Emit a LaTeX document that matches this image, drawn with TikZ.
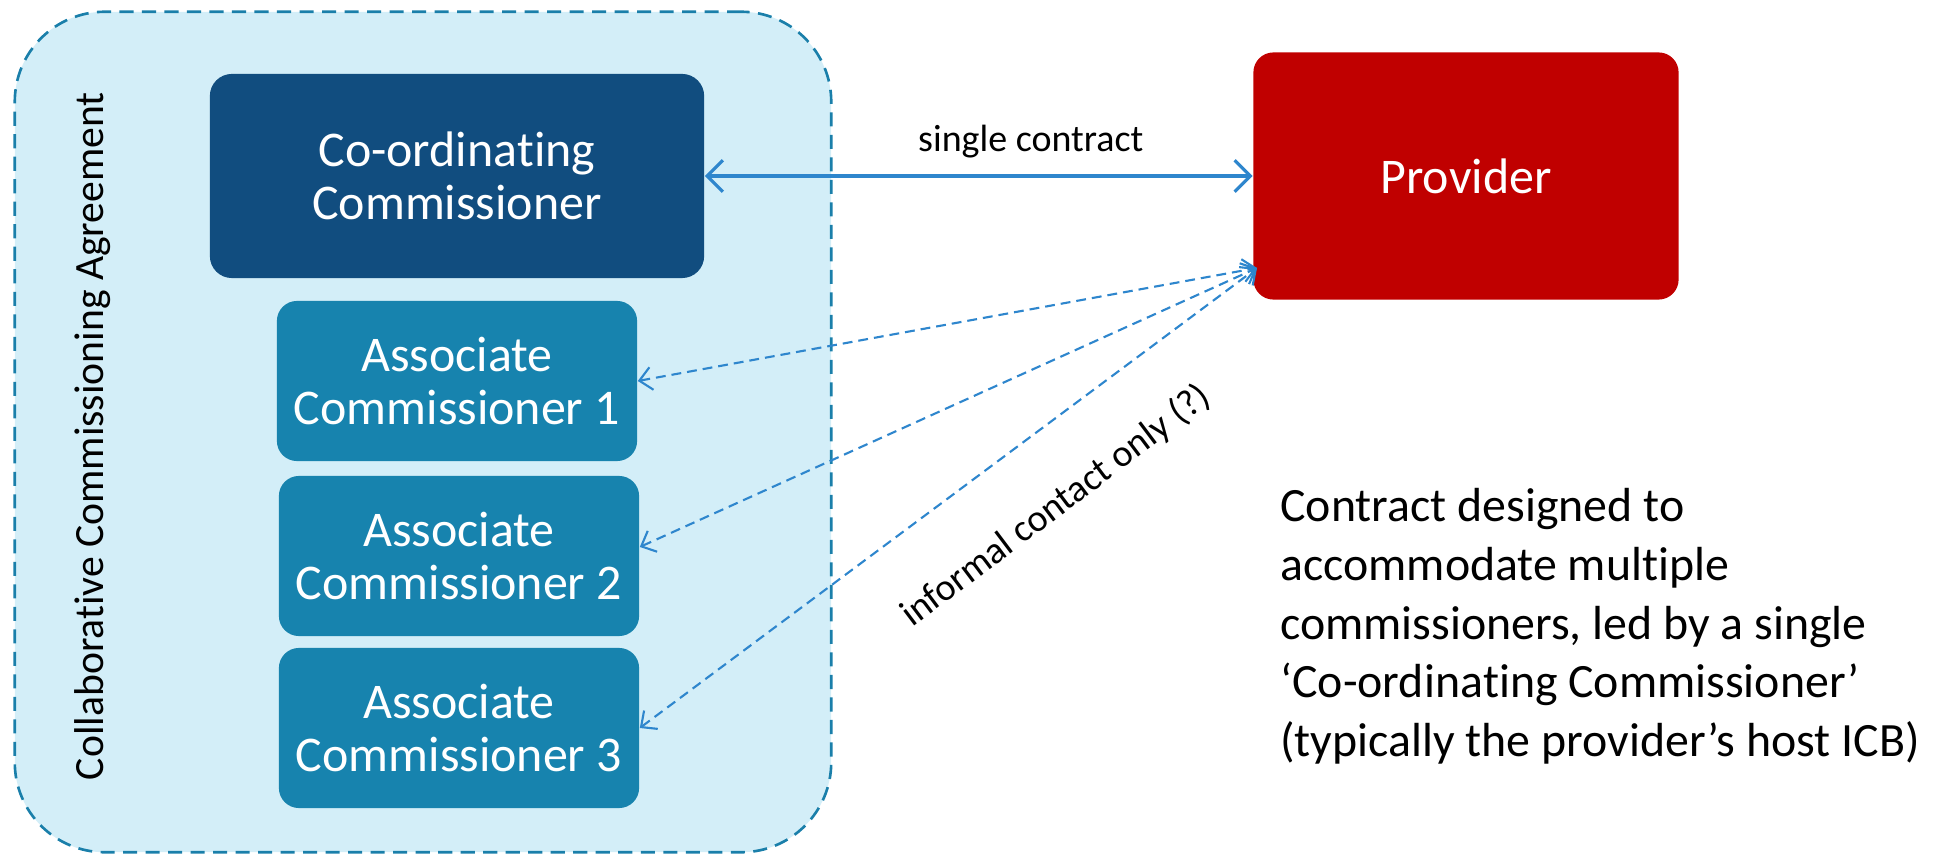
\documentclass[tikz,border=0pt]{standalone}
\usepackage{fontspec}
\setmainfont{Carlito}[Ligatures={TeX,NoCommon}]
\usetikzlibrary{arrows.meta,positioning,calc}

\definecolor{agreefill}{HTML}{D3EEF8}
\definecolor{agreeline}{HTML}{1A7FAA}
\definecolor{leadblue}{HTML}{114D7F}
\definecolor{assocblue}{HTML}{1783AE}
\definecolor{provred}{HTML}{C00000}
\definecolor{linkblue}{HTML}{2E86CD}

% keep "t" and "i" apart (Carlito joins them)
\newcommand{\coordword}{Co-ordina\kern0pt ting}

\begin{document}
\begin{tikzpicture}[
    x=0.01cm, y=-0.01cm,
    agreement/.style={rectangle, rounded corners=0.9cm, draw=agreeline,
                      line width=0.75pt, dash pattern=on 4pt off 2.4pt,
                      fill=agreefill, minimum width=8.16cm, minimum height=8.4cm},
    lead/.style={rectangle, rounded corners=0.22cm, fill=leadblue, text=white,
                 minimum width=4.94cm, minimum height=2.04cm, align=center,
                 font=\fontsize{14.2}{15.1}\selectfont},
    assoc/.style={rectangle, rounded corners=0.2cm, fill=assocblue, text=white,
                  minimum width=3.6cm, minimum height=1.6cm, align=center,
                  font=\fontsize{14.2}{15.1}\selectfont},
    provider/.style={rectangle, rounded corners=0.2cm, fill=provred, text=white,
                     minimum width=4.25cm, minimum height=2.47cm,
                     font=\fontsize{14.2}{15.1}\selectfont},
    contract/.style={{Straight Barb[length=4.5pt,width=9pt]}-{Straight Barb[length=4.5pt,width=9pt]},
                     line width=0.9pt, draw=linkblue},
    contact/.style={{Straight Barb[length=3.5pt,width=6.5pt]}-{Straight Barb[length=3.5pt,width=6.5pt]},
                    line width=0.6pt, draw=linkblue, dash pattern=on 2.8pt off 1.7pt},
    note/.style={font=\fontsize{10.8}{13}\selectfont}
]
    \useasboundingbox (0,0) rectangle (1936,855);

    % Agreement area
    \node (cca) [agreement] at (423,432) {};
    \node (ccalabel) [rotate=90, font=\fontsize{11.85}{14}\selectfont] at (93,436)
        {Collaborative Commissioning Agreement};

    % Commissioners
    \node (coord) [lead] at (457,176) {\coordword\\Commissioner};
    \node (a1) [assoc] at (457,381) {Associate\\Commissioner 1};
    \node (a2) [assoc] at (459,556) {Associate\\Commissioner 2};
    \node (a3) [assoc] at (459,728) {Associate\\Commissioner 3};

    % Provider
    \node (prov) [provider] at (1466,176) {Provider};
    \coordinate (hub) at (1257,268);

    % Links
    \draw [contract] (coord.east) -- (prov.west)
        node[pos=0.595, yshift=0.34cm, note] {single contract};
    \draw [contact] (a1.east) -- (hub);
    \draw [contact] ($(a2.east)+(0,-9)$) -- (hub);
    \draw [contact] (a3.east) -- (hub);
    \node (informal) [note, rotate=37] at (1056,506) {informal contact only (?)};

    % Explanation
    \node (expl) [anchor=north west, align=left,
                  font=\fontsize{13.6}{16.7}\selectfont] at (1268,476)
        {Contract designed to\\
         accommodate multiple\\
         commissioners, led by a single\\
         ‘\coordword{} Commissioner’\\
         (typically the provider’s host ICB)};
\end{tikzpicture}
\end{document}
